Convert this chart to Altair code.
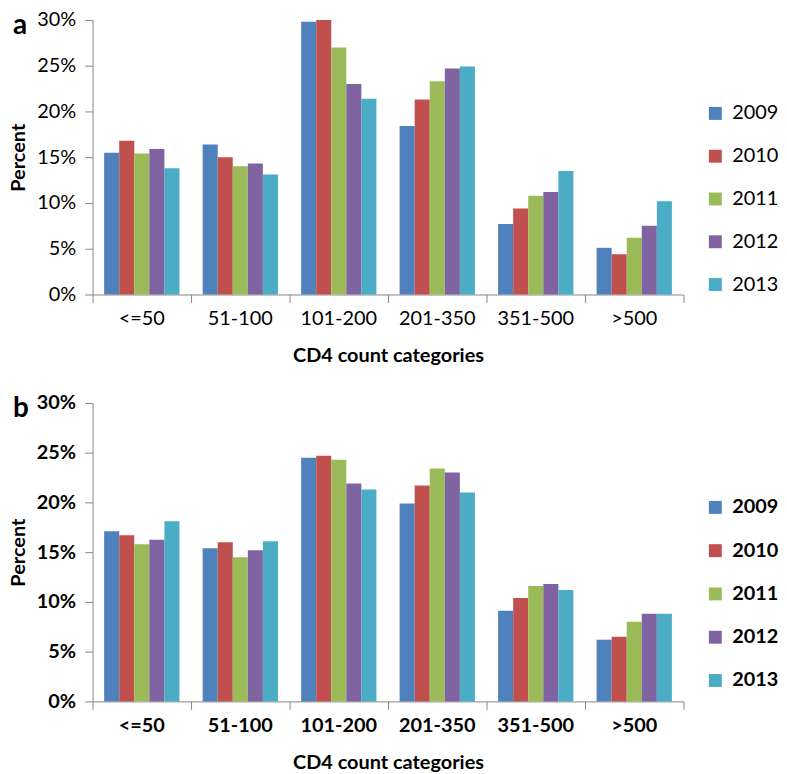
import altair as alt
import pandas as pd

categories = ["<=50", "51-100", "101-200", "201-350", "351-500", ">500"]
years = ["2009", "2010", "2011", "2012", "2013"]
colors = ["#4F81BD", "#C0504D", "#9BBB59", "#8064A2", "#4BACC6"]

panel_a = {
    "2009": [15.5, 16.4, 29.8, 18.4, 7.7, 5.1],
    "2010": [16.8, 15.0, 30.0, 21.3, 9.4, 4.4],
    "2011": [15.4, 14.0, 27.0, 23.3, 10.8, 6.2],
    "2012": [15.9, 14.3, 23.0, 24.7, 11.2, 7.5],
    "2013": [13.8, 13.1, 21.4, 24.9, 13.5, 10.2],
}
panel_b = {
    "2009": [17.1, 15.4, 24.5, 19.9, 9.1, 6.2],
    "2010": [16.7, 16.0, 24.7, 21.7, 10.4, 6.5],
    "2011": [15.8, 14.5, 24.3, 23.4, 11.6, 8.0],
    "2012": [16.25, 15.2, 21.9, 23.0, 11.8, 8.8],
    "2013": [18.1, 16.1, 21.3, 21.0, 11.2, 8.8],
}
y_ticks = [0, 5, 10, 15, 20, 25, 30]

AXIS_GREY = "#868686"
PLOT_W = 594


def to_df(d):
    rows = []
    for y in years:
        for c, v in zip(categories, d[y]):
            rows.append({"cat": c, "year": y, "pct": v})
    return pd.DataFrame(rows)


def panel(d, letter, bold, height, legend_y, row_pad):
    weight = "bold" if bold else "normal"
    df = to_df(d)
    bars = alt.Chart(df).mark_bar().encode(
        x=alt.X(
            "cat:N",
            sort=categories,
            scale=alt.Scale(paddingInner=0, paddingOuter=0),
            axis=alt.Axis(
                title="CD4 count categories",
                labelAngle=0,
                bandPosition=1,
                tickExtra=True,
                tickSize=8,
                labelPadding=6,
                titlePadding=17,
                domainColor=AXIS_GREY,
                tickColor=AXIS_GREY,
                labelColor="black",
                labelFontSize=20,
                labelFontWeight=weight,
                titleFontSize=20,
                titleFontWeight="bold",
                titleColor="black",
            ),
        ),
        xOffset=alt.XOffset(
            "year:N",
            sort=years,
            scale=alt.Scale(paddingOuter=0.77, paddingInner=0),
        ),
        y=alt.Y(
            "pct:Q",
            scale=alt.Scale(domain=[0, 30], nice=False),
            axis=alt.Axis(
                title="Percent",
                values=y_ticks,
                labelExpr="datum.value + '%'",
                tickSize=8,
                labelPadding=9,
                titlePadding=8,
                grid=False,
                domainColor=AXIS_GREY,
                tickColor=AXIS_GREY,
                labelColor="black",
                labelFontSize=20,
                labelFontWeight=weight,
                titleFontSize=20,
                titleFontWeight="bold",
                titleColor="black",
            ),
        ),
        color=alt.Color(
            "year:N",
            scale=alt.Scale(domain=years, range=colors),
            legend=alt.Legend(
                title=None,
                orient="none",
                legendX=PLOT_W + 22,
                legendY=legend_y,
                padding=0,
                symbolType="square",
                symbolSize=169,
                symbolStrokeWidth=0,
                labelFontSize=20,
                labelFontWeight=weight,
                labelColor="black",
                labelOffset=7,
                rowPadding=row_pad,
            ),
        ),
    )
    lab = alt.Chart(pd.DataFrame({"t": [letter]})).mark_text(
        fontSize=28, fontWeight="bold", align="left", baseline="top", color="black"
    ).encode(text="t:N", x=alt.value(-80), y=alt.value(-8))
    return alt.layer(bars, lab).properties(width=PLOT_W, height=height)


a = panel(panel_a, "a", False, 276, 84, 23)
b = panel(panel_b, "b", True, 300, 95, 23.5)

chart = (
    alt.vconcat(a, b, spacing=28)
    .resolve_scale(color="independent")
    .properties(padding=0)
    .configure(font="Lato")
    .configure_view(stroke=None)
)

chart.save("out.html", embed_options={"renderer": "svg", "actions": False})
